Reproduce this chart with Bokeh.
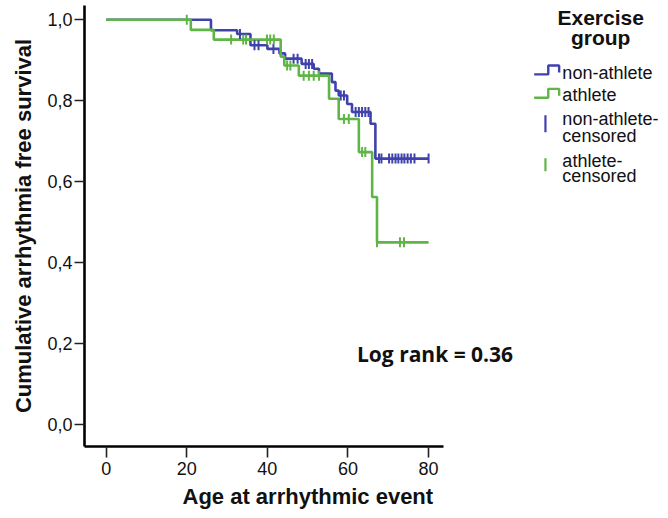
import numpy as np
from bokeh.plotting import figure
from bokeh.models import Range1d, FixedTicker, Label, Title
from bokeh.core.properties import value
from bokeh.embed import file_html
from bokeh.resources import INLINE

# ---- data ----
nonathlete_time = [0, 26.0, 32.5, 35.8, 40.0, 43.0, 44.4, 48.5, 51.5, 52.8, 56.0, 56.9, 57.7, 59.8, 61.0, 65.6, 66.8, 80.0]
nonathlete_surv = [1.0, 0.974, 0.965, 0.937, 0.928, 0.917, 0.904, 0.891, 0.879, 0.867, 0.846, 0.825, 0.813, 0.792, 0.772, 0.743, 0.657, 0.657]
athlete_time = [0, 21.0, 26.7, 43.3, 44.2, 47.8, 55.3, 57.7, 62.7, 66.0, 67.2, 80.0]
athlete_surv = [1.0, 0.975, 0.951, 0.909, 0.887, 0.862, 0.805, 0.755, 0.673, 0.562, 0.450, 0.450]
nonathlete_censored = [33.2, 36.8, 37.8, 41.5, 46.5, 47.5, 49.5, 50.3, 51.1, 58.2, 59.0, 61.9, 62.7, 63.5,
                       64.3, 65.1, 67.7, 68.3, 70.2, 71.0, 71.8, 72.5, 73.3, 74.0, 74.8, 75.6, 76.5, 80.0]
athlete_censored = [20.0, 31.0, 34.0, 34.7, 39.9, 40.7, 41.6, 44.9, 45.7, 49.0, 50.3, 51.5, 52.8, 59.0,
                    60.2, 63.5, 64.3, 67.2, 72.9, 73.9]
x_ticks = [0, 20, 40, 60, 80]
y_ticks = [0.0, 0.2, 0.4, 0.6, 0.8, 1.0]
y_tick_labels = ["0,0", "0,2", "0,4", "0,6", "0,8", "1,0"]
group_names = ["non-athlete", "athlete"]
censored_names = [["non-athlete-", "censored"], ["athlete-", "censored"]]
legend_title = ["Exercise", "group"]
x_title = "Age at arrhythmic event"
y_title = "Cumulative arrhythmia free survival"
annotation = "Log rank = 0.36"

BLUE = "#4042ac"
GREEN = "#5fb545"


def surv_at(times, survs, c):
    times = np.asarray(times)
    idx = np.searchsorted(times, c, side="right") - 1
    return survs[idx]


p = figure(width=660, height=516, output_backend="svg", toolbar_location=None,
           x_range=Range1d(-5.38, 137.55), y_range=Range1d(-0.0544, 1.0353),
           min_border_left=84, min_border_right=0, min_border_top=5, min_border_bottom=70)
p.outline_line_color = None
p.grid.visible = False
p.background_fill_color = "white"

FONT = value("Liberation Sans")

# axes
for ax in (p.xaxis[0], p.yaxis[0]):
    ax.axis_line_width = 2.6
    ax.axis_line_color = "black"
    ax.major_tick_line_color = "#222222"
    ax.major_tick_line_width = 1.6
    ax.minor_tick_line_color = None
    ax.major_tick_in = 0
    ax.major_label_text_font = "Liberation Sans"
    ax.major_label_text_font_size = "18px"
    ax.major_label_text_color = "#111111"

p.xaxis.ticker = FixedTicker(ticks=x_ticks)
p.xaxis.bounds = (-5.38, 83.6)
p.xaxis.major_tick_out = 11
p.xaxis.major_label_standoff = 4

p.yaxis.ticker = FixedTicker(ticks=y_ticks)
p.yaxis.major_label_overrides = {t: l for t, l in zip(y_ticks, y_tick_labels)}
p.yaxis.major_tick_out = 10
p.yaxis.major_label_standoff = 2
p.yaxis.axis_label = y_title
p.yaxis.axis_label_text_font = "Liberation Sans"
p.yaxis.axis_label_text_font_style = "bold"
p.yaxis.axis_label_text_font_size = "22px"
p.yaxis.axis_label_text_color = "#111111"
p.yaxis.axis_label_standoff = 8

# x axis title, placed under the axis
p.add_layout(Title(text=x_title, align="left", offset=98, standoff=9,
                   text_font="Liberation Sans", text_font_style="bold", text_font_size="22px",
                   text_color="#111111"), "below")

# curves
p.step(nonathlete_time, nonathlete_surv, mode="after", line_color=BLUE, line_width=2.6)
p.step(athlete_time, athlete_surv, mode="after", line_color=GREEN, line_width=2.6)

nb = [surv_at(nonathlete_time, nonathlete_surv, c) for c in nonathlete_censored]
ab = [surv_at(athlete_time, athlete_surv, c) for c in athlete_censored]
p.scatter(nonathlete_censored, nb, marker="dash", angle=np.pi / 2, size=10,
          line_color=BLUE, line_width=2)
p.scatter(athlete_censored, ab, marker="dash", angle=np.pi / 2, size=10,
          line_color=GREEN, line_width=2)

# log rank annotation
p.add_layout(Label(x=81.6, y=0.175, text=annotation, text_align="center", text_baseline="alphabetic",
                   text_font="Open Sans", text_font_style="bold", text_font_size="21px",
                   text_color="#111111"))

# legend
p.text([122.7, 122.7], [1.006, 0.956], text=legend_title, text_align="center",
       text_baseline="alphabetic", text_font=FONT, text_font_style="bold",
       text_font_size="21px", text_color="#111111")
p.text([113.2, 113.2], [0.869, 0.813], text=group_names, text_align="left",
       text_baseline="alphabetic", text_font=FONT, text_font_size="18px", text_color="#111111")
p.text([113.2, 113.2, 113.2, 113.2], [0.755, 0.714, 0.652, 0.615],
       text=censored_names[0] + censored_names[1], text_align="left",
       text_baseline="alphabetic", text_font=FONT, text_font_size="18px", text_color="#111111")

icon_x = [106.2, 109.7, 109.7, 112.4, 112.4]
icon_y = [0.865, 0.865, 0.887, 0.887, 0.870]
p.line(icon_x, icon_y, line_color=BLUE, line_width=2.4)
p.line(icon_x, [v - 0.0577 for v in icon_y], line_color=GREEN, line_width=2.4)
p.segment([109.0, 109.0], [0.722, 0.626], [109.0, 109.0], [0.764, 0.658],
          line_color=[BLUE, GREEN], line_width=2.2)

open("out.html", "w").write(file_html(p, INLINE))
